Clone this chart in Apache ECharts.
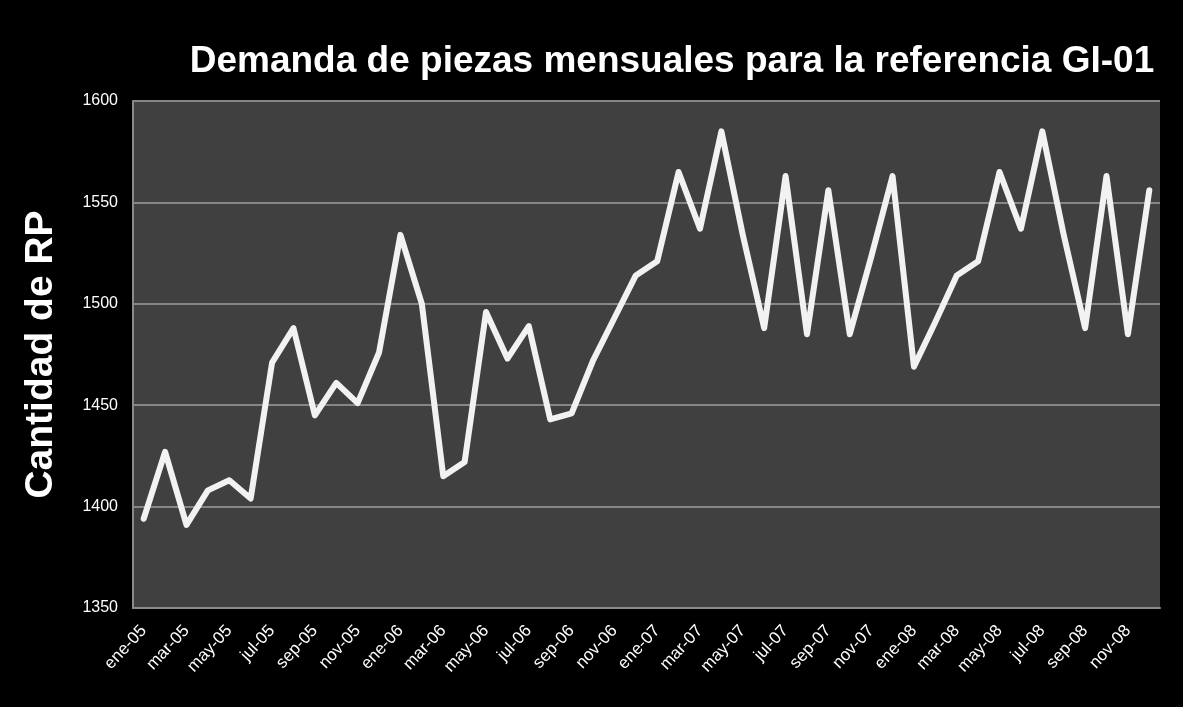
<!DOCTYPE html>
<html>
<head>
<meta charset="utf-8">
<script src="https://cdn.jsdelivr.net/npm/echarts@6/dist/echarts.min.js"></script>
<style>
  html, body { margin: 0; padding: 0; background: #000; }
  #chart { width: 1183px; height: 707px; }
</style>
</head>
<body>
<div id="chart"></div>
<script>
const months = ['ene', 'feb', 'mar', 'abr', 'may', 'jun', 'jul', 'ago', 'sep', 'oct', 'nov', 'dic']
const years = ['05', '06', '07', '08']
const categories = []
years.forEach(y => months.forEach(m => categories.push(m + '-' + y)))

const demand2005 = [1394, 1427, 1391, 1408, 1413, 1404, 1471, 1488, 1445, 1461, 1451, 1476]
const demand2006 = [1534, 1500, 1415, 1422, 1496, 1473, 1489, 1443, 1446, 1472, 1493, 1514]
const demand2007 = [1521, 1565, 1537, 1585, 1534, 1488, 1563, 1485, 1556, 1485, 1523, 1563]
const demand2008 = [1469, 1491, 1514, 1521, 1565, 1537, 1585, 1534, 1488, 1563, 1485, 1556]
const demand = [].concat(demand2005, demand2006, demand2007, demand2008)

const yTicks = { min: 1350, max: 1600, interval: 50 }

const myChart = echarts.init(document.getElementById('chart'))
const option = {
  backgroundColor: '#000000',
  animation: false,
  title: {
    text: 'Demanda de piezas mensuales para la referencia GI-01',
    left: 667,
    top: 38,
    textAlign: 'center',
    textStyle: {
      color: '#ffffff',
      fontFamily: 'Liberation Sans, Arial, sans-serif',
      fontWeight: 'bold',
      fontSize: 37
    }
  },
  grid: {
    left: 133,
    right: 23,
    top: 101,
    bottom: 99,
    show: true,
    backgroundColor: '#404040',
    borderWidth: 0
  },
  xAxis: {
    type: 'category',
    data: categories,
    boundaryGap: true,
    axisLine: { show: true, lineStyle: { color: '#8a8a8a', width: 2 } },
    axisTick: { show: false },
    axisLabel: {
      interval: 1,
      rotate: 47,
      margin: 20,
      color: '#ffffff',
      fontFamily: 'Liberation Sans, Arial, sans-serif',
      fontSize: 17
    },
    splitLine: { show: false }
  },
  yAxis: {
    type: 'value',
    min: yTicks.min,
    max: yTicks.max,
    interval: yTicks.interval,
    name: 'Cantidad de RP',
    nameLocation: 'middle',
    nameGap: 72,
    nameTextStyle: {
      color: '#ffffff',
      fontFamily: 'Liberation Sans, Arial, sans-serif',
      fontWeight: 'bold',
      fontSize: 39
    },
    axisLine: { show: true, lineStyle: { color: '#8a8a8a', width: 2 } },
    axisTick: { show: false },
    axisLabel: {
      margin: 15,
      color: '#ffffff',
      fontFamily: 'Liberation Sans, Arial, sans-serif',
      fontSize: 16,
      formatter: v => String(v)
    },
    splitLine: { show: true, lineStyle: { color: '#868686', width: 2 } }
  },
  series: [
    {
      type: 'line',
      data: demand,
      symbol: 'none',
      lineStyle: { color: '#f2f2f2', width: 6, join: 'round', cap: 'round' }
    }
  ]
}
myChart.setOption(option)
</script>
</body>
</html>
